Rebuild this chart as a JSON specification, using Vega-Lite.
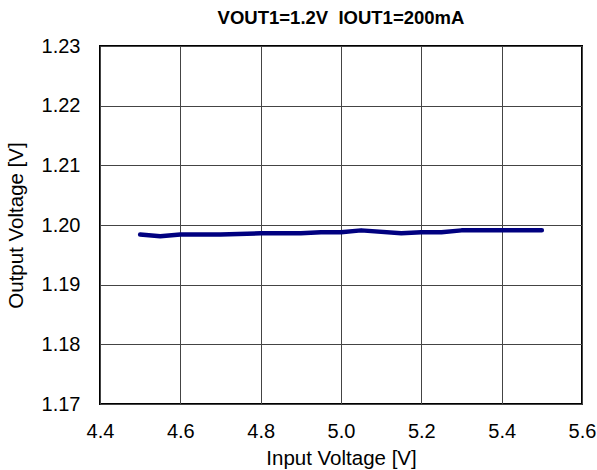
{
  "$schema": "https://vega.github.io/schema/vega-lite/v6.json",
  "autosize": {"type": "none"},
  "padding": {"left": 100, "top": 46, "right": 15, "bottom": 66},
  "width": 482,
  "height": 358,
  "background": "white",
  "title": {
    "text": "VOUT1=1.2V\u00a0\u00a0IOUT1=200mA",
    "font": "Liberation Sans",
    "fontSize": 18.5,
    "fontWeight": "bold",
    "color": "black",
    "anchor": "middle",
    "offset": 9
  },
  "config": {
    "font": "Liberation Sans",
    "view": {"stroke": "black", "strokeWidth": 2},
    "axis": {
      "labelFont": "Liberation Sans",
      "titleFont": "Liberation Sans",
      "labelColor": "black",
      "titleColor": "black",
      "labelFontSize": 20,
      "titleFontSize": 20.5,
      "titleFontWeight": "normal",
      "labelFlush": false,
      "ticks": false,
      "domain": false,
      "gridColor": "#444444",
      "gridWidth": 1,
      "gridOpacity": 1
    }
  },
  "data": {
    "values": [
      {"vin": 4.5, "vout": 1.1984},
      {"vin": 4.55, "vout": 1.1981},
      {"vin": 4.6, "vout": 1.1984},
      {"vin": 4.7, "vout": 1.1984},
      {"vin": 4.8, "vout": 1.1986},
      {"vin": 4.9, "vout": 1.1986},
      {"vin": 4.95, "vout": 1.1988},
      {"vin": 5.0, "vout": 1.1988},
      {"vin": 5.05, "vout": 1.1991},
      {"vin": 5.15, "vout": 1.1986},
      {"vin": 5.2, "vout": 1.1988},
      {"vin": 5.25, "vout": 1.1988},
      {"vin": 5.3, "vout": 1.1991},
      {"vin": 5.4, "vout": 1.1991},
      {"vin": 5.5, "vout": 1.1991}
    ]
  },
  "mark": {"type": "line", "color": "#000080", "strokeWidth": 4.5, "strokeCap": "round", "strokeJoin": "round"},
  "encoding": {
    "x": {
      "field": "vin",
      "type": "quantitative",
      "title": "Input Voltage [V]",
      "scale": {"domain": [4.4, 5.6], "nice": false, "zero": false},
      "axis": {"values": [4.4, 4.6, 4.8, 5.0, 5.2, 5.4, 5.6], "format": ".1f", "labelPadding": 17, "titlePadding": 7}
    },
    "y": {
      "field": "vout",
      "type": "quantitative",
      "title": "Output Voltage [V]",
      "scale": {"domain": [1.17, 1.23], "nice": false, "zero": false},
      "axis": {"values": [1.17, 1.18, 1.19, 1.2, 1.21, 1.22, 1.23], "format": ".2f", "labelPadding": 20, "titlePadding": 15}
    }
  }
}
